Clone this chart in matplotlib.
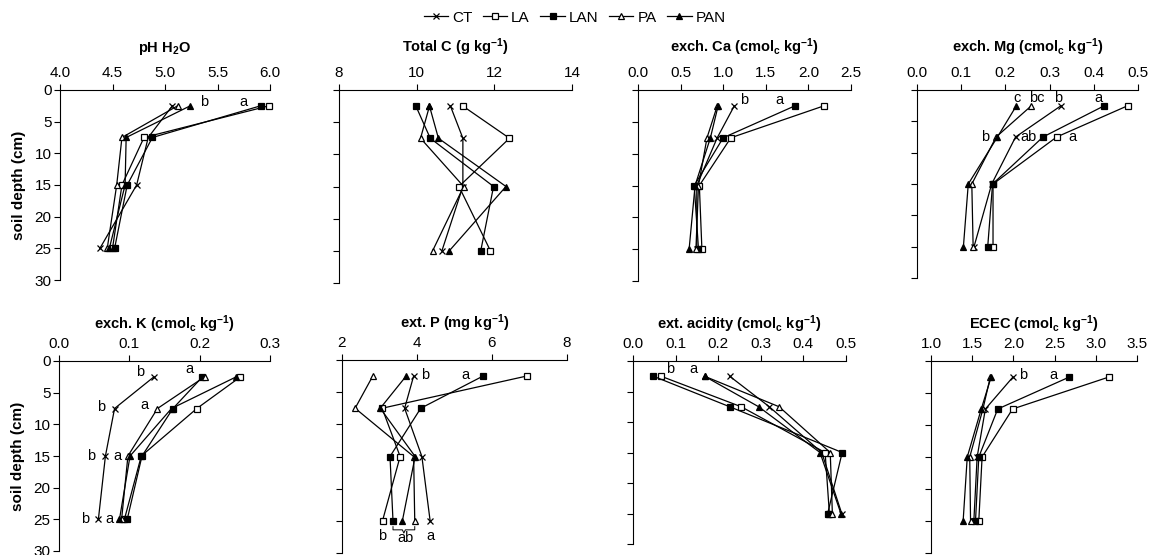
"""
Soil depth profiles of pH, C and exchangeable cations for the five treatments
"""
import matplotlib
matplotlib.use("Agg")
import matplotlib.pyplot as plt
import numpy as np

plt.rcParams.update({'font.family': 'Liberation Sans', 'font.size': 10,
                     'mathtext.fontset': 'custom', 'mathtext.rm': 'Liberation Sans:bold',
                     'mathtext.default': 'rm'})

### data ###
depth = [2.5, 7.5, 15, 25]
treatments = ["CT", "LA", "LAN", "PA", "PAN"]

ph_h2o = {"CT": [5.07, 4.84, 4.73, 4.38], "LA": [5.99, 4.80, 4.59, 4.50],
          "LAN": [5.91, 4.88, 4.64, 4.52], "PA": [5.12, 4.59, 4.54, 4.45],
          "PAN": [5.24, 4.63, 4.62, 4.47]}
total_c = {"CT": [10.87, 11.19, 11.19, 10.65], "LA": [11.19, 12.39, 11.09, 11.90],
           "LAN": [9.98, 10.35, 11.98, 11.65], "PA": [10.33, 10.10, 11.21, 10.41],
           "PAN": [10.33, 10.56, 12.30, 10.84]}
exch_ca = {"CT": [1.13, 0.93, 0.69, 0.69], "LA": [2.18, 1.09, 0.72, 0.75],
           "LAN": [1.84, 1.00, 0.66, 0.71], "PA": [0.93, 0.81, 0.71, 0.68],
           "PAN": [0.94, 0.85, 0.67, 0.60]}
exch_mg = {"CT": [0.326, 0.223, 0.169, 0.129], "LA": [0.477, 0.316, 0.172, 0.172],
           "LAN": [0.424, 0.285, 0.171, 0.160], "PA": [0.259, 0.179, 0.124, 0.127],
           "PAN": [0.225, 0.182, 0.116, 0.105]}
exch_k = {"CT": [0.135, 0.079, 0.066, 0.056], "LA": [0.258, 0.196, 0.117, 0.093],
          "LAN": [0.204, 0.162, 0.118, 0.097], "PA": [0.207, 0.140, 0.098, 0.089],
          "PAN": [0.252, 0.160, 0.101, 0.086]}
ext_p = {"CT": [3.91, 3.67, 4.13, 4.35], "LA": [6.92, 3.07, 3.55, 3.08],
         "LAN": [5.76, 4.10, 3.28, 3.36], "PA": [2.82, 2.35, 3.91, 3.94],
         "PAN": [3.71, 3.02, 3.95, 3.61]}
ext_acidity = {"CT": [0.227, 0.320, 0.443, 0.490], "LA": [0.066, 0.254, 0.451, 0.461],
               "LAN": [0.048, 0.227, 0.491, 0.457], "PA": [0.168, 0.343, 0.463, 0.468],
               "PAN": [0.168, 0.295, 0.439, 0.488]}
ecec = {"CT": [1.995, 1.66, 1.56, 1.52], "LA": [3.16, 1.99, 1.62, 1.58],
        "LAN": [2.68, 1.81, 1.58, 1.54], "PA": [1.72, 1.63, 1.47, 1.48],
        "PAN": [1.73, 1.61, 1.44, 1.39]}

titles = ["pH H$_2$O", "Total C (g kg$^{-1}$)", "exch. Ca (cmol$_c$ kg$^{-1}$)",
          "exch. Mg (cmol$_c$ kg$^{-1}$)", "exch. K (cmol$_c$ kg$^{-1}$)",
          "ext. P (mg kg$^{-1}$)", "ext. acidity (cmol$_c$ kg$^{-1}$)",
          "ECEC (cmol$_c$ kg$^{-1}$)"]
datasets = [ph_h2o, total_c, exch_ca, exch_mg, exch_k, ext_p, ext_acidity, ecec]
x_ticks = [np.arange(4.0, 6.01, 0.5), np.arange(8, 14.1, 2), np.arange(0, 2.51, 0.5),
           np.arange(0, 0.51, 0.1), np.arange(0, 0.31, 0.1), np.arange(2, 8.1, 2),
           np.arange(0, 0.51, 0.1), np.arange(1.0, 3.51, 0.5)]
x_fmt = ["%.1f", "%d", "%.1f", "%.1f", "%.1f", "%d", "%.1f", "%.1f"]

# significance letters: (x, depth, letter)
letters = [
    [(5.37, 1.9, "b"), (5.75, 1.9, "a")],
    [],
    [(1.24, 1.5, "b"), (1.66, 1.5, "a")],
    [(0.227, 1.3, "c"), (0.27, 1.3, "bc"), (0.32, 1.3, "b"), (0.41, 1.3, "a"),
     (0.154, 7.5, "b"), (0.252, 7.5, "ab"), (0.351, 7.5, "a")],
    [(0.115, 1.7, "b"), (0.185, 1.3, "a"), (0.060, 7.3, "b"), (0.122, 7.0, "a"),
     (0.045, 15, "b"), (0.083, 15, "a"), (0.037, 25, "b"), (0.072, 25, "a")],
    [(4.22, 2.4, "b"), (5.30, 2.4, "a"), (3.08, 27.4, "b"), (3.68, 27.7, "ab"), (4.35, 27.4, "a")],
    [(0.086, 1.3, "b"), (0.142, 1.3, "a")],
    [(2.12, 2.2, "b"), (2.48, 2.2, "a")],
]

styles = {"CT": dict(marker="x", ms=4.5, mfc="black", mew=0.9),
          "LA": dict(marker="s", ms=4.5, mfc="white", mew=0.9),
          "LAN": dict(marker="s", ms=4.5, mfc="black", mew=0.9),
          "PA": dict(marker="^", ms=5, mfc="white", mew=0.9),
          "PAN": dict(marker="^", ms=5, mfc="black", mew=0.9)}

# axes boxes in pixels (left, top, right, bottom)
boxes = [(60, 90, 270, 280), (339, 90, 572, 283), (638, 90, 851, 281), (917, 90, 1138, 278),
         (59, 361, 270, 551), (342, 360, 567, 553), (633, 361, 846, 544), (931, 361, 1137, 553)]
W, H = 1149, 555


def draw_panel(fig, i):
    l, t, r, b = boxes[i]
    ax = fig.add_axes([l / W, 1 - b / H, (r - l) / W, (b - t) / H])
    data = datasets[i]
    for name in treatments:
        ax.plot(data[name], depth, color="black", lw=0.9, mec="black",
                label=name, clip_on=False, **styles[name])
    ticks = x_ticks[i]
    ax.set_xlim(ticks[0], ticks[-1])
    ax.set_ylim(30, 0)
    ax.set_xticks(ticks)
    ax.set_xticklabels([x_fmt[i] % v for v in ticks])
    ax.xaxis.tick_top()
    ax.set_yticks(range(0, 31, 5))
    ax.tick_params(direction="out", length=4, width=0.8, labelsize=11, pad=2)
    ax.tick_params(axis="x", pad=3)
    for side in ["right", "bottom"]:
        ax.spines[side].set_visible(False)
    for side in ["left", "top"]:
        ax.spines[side].set_linewidth(0.8)
    if i % 4 == 0:
        ax.set_ylabel("soil depth (cm)", fontweight="bold", fontsize=11, labelpad=6)
    else:
        ax.set_yticklabels([])
    ax.set_title(titles[i], fontweight="bold", fontsize=10.5, pad=10 if i < 4 else 6)
    for x, y, s in letters[i]:
        ax.text(x, y, s, ha="center", va="center", fontsize=10.5)
    return ax


def main():
    fig = plt.figure(figsize=(W / 100, H / 100), dpi=100)
    axes = [draw_panel(fig, i) for i in range(8)]

    # brace under LAN..PA at 25 cm in ext. P
    ax = axes[5]
    x0, x1 = ext_p["LAN"][3], ext_p["PA"][3]
    xm = (x0 + x1) / 2
    ax.plot([x0, x0, xm - 0.04, xm, xm + 0.04, x1, x1],
            [25.9, 26.4, 26.4, 26.9, 26.4, 26.4, 25.9],
            color="black", lw=0.7, clip_on=False)

    handles, labels = axes[0].get_legend_handles_labels()
    fig.legend(handles, labels, loc="upper center", bbox_to_anchor=(0.5, 1.0), ncol=5,
               frameon=False, fontsize=11, handlelength=1.6, handletextpad=0.25,
               columnspacing=0.7, borderaxespad=0.3)

    fig.savefig("out.png", dpi=100)


if __name__ == "__main__":
    main()
